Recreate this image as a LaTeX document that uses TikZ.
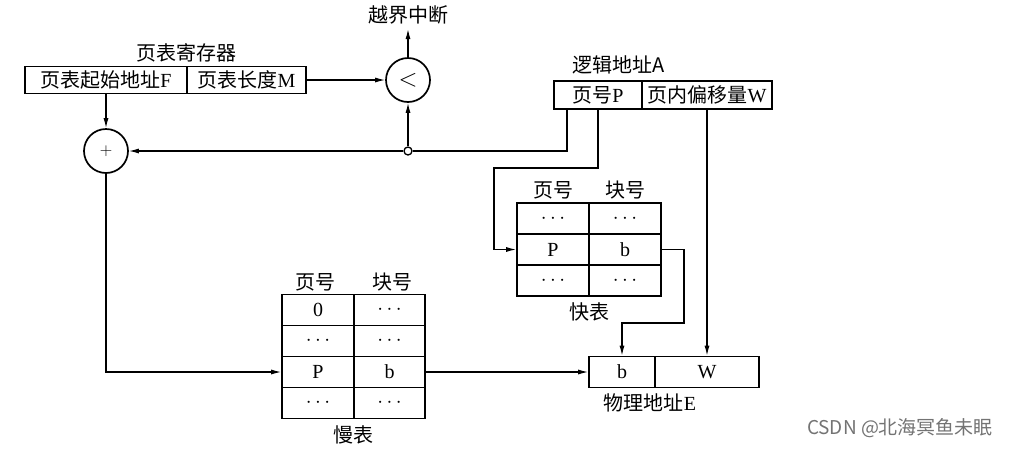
\documentclass[tikz,border=0pt]{standalone}
\usepackage{fontspec}
\setmainfont{Liberation Serif}
\newfontfamily\cjk{Noto Sans CJK SC}
\usetikzlibrary{arrows.meta}
\begin{document}
\begin{tikzpicture}[x=1pt,y=-1pt,
  every node/.style={font=\fontsize{20}{22}\selectfont, inner sep=0pt},
  cell/.style={draw, line width=1.6pt, minimum height=31pt, anchor=center},
  regcell/.style={draw, line width=1.6pt, minimum height=27pt, anchor=center},
  opcircle/.style={draw, circle, line width=1.7pt, minimum size=44pt},
  lbl/.style={anchor=center},
  conn/.style={line width=1.2pt},
  arr/.style={conn, -{Latex[length=10pt,width=5pt]}},
  juncdot/.style={draw, circle, line width=1.3pt, fill=white, minimum size=8pt}
]
\path[use as bounding box] (0,0) rectangle (1011,448);

% page table register
\node[lbl] (reglbl) at (186,53) {\cjk 页表寄存器};
\node[regcell, minimum width=162pt] (reg1) at (106,80) {{\cjk 页表起始地址}F};
\node[regcell, minimum width=119pt] (reg2) at (246.5,80) {{\cjk 页表长度}M};

% comparator and adder
\node[opcircle] (cmp) at (408,80) {\fontsize{24}{26}\selectfont$<$};
\node[opcircle] (plus) at (106,151) {\fontsize{16}{18}\selectfont$+$};
\node[lbl] (oob) at (408,15) {\cjk 越界中断};
\coordinate (oobtip) at (408,29);
\node[juncdot] (junc) at (408,151) {};

% logical address
\node[lbl] (lalbl) at (619,65) {\cjk 逻辑地址A};
\node[regcell, minimum width=88pt, minimum height=28pt] (la1) at (598,95) {{\cjk 页号}P};
\node[regcell, minimum width=130pt, minimum height=28pt] (la2) at (707,95) {{\cjk 页内偏移量}W};

% fast table
\node[lbl] (fh1) at (553,190) {\cjk 页号};
\node[lbl] (fh2) at (625,190) {\cjk 块号};
\node[cell, minimum width=72pt] (f11) at (553,218.5) {$\cdots$};
\node[cell, minimum width=72pt] (f12) at (625,218.5) {$\cdots$};
\node[cell, minimum width=72pt] (fP) at (553,249.5) {P};
\node[cell, minimum width=72pt] (fb) at (625,249.5) {b};
\node[cell, minimum width=72pt] (f31) at (553,280.5) {$\cdots$};
\node[cell, minimum width=72pt] (f32) at (625,280.5) {$\cdots$};
\node[lbl] (flbl) at (589,312) {\cjk 快表};

% slow table
\node[lbl] (sh1) at (315,282) {\cjk 页号};
\node[lbl] (sh2) at (392,282) {\cjk 块号};
\node[cell, minimum width=72pt] (s11) at (318,310) {0};
\node[cell, minimum width=71pt] (s12) at (389.5,310) {$\cdots$};
\node[cell, minimum width=72pt] (s21) at (318,341) {$\cdots$};
\node[cell, minimum width=71pt] (s22) at (389.5,341) {$\cdots$};
\node[cell, minimum width=72pt] (sP) at (318,372) {P};
\node[cell, minimum width=71pt] (sb) at (389.5,372) {b};
\node[cell, minimum width=72pt] (s41) at (318,403) {$\cdots$};
\node[cell, minimum width=71pt] (s42) at (389.5,403) {$\cdots$};
\node[lbl] (slbl) at (353,435) {\cjk 慢表};

% physical address
\node[cell, minimum width=66pt] (pb) at (622,372) {b};
\node[cell, minimum width=104pt] (pw) at (707,372) {W};
\node[lbl] (plbl) at (650,403) {{\cjk 物理地址}E};

% watermark
\node[lbl, text=black!55, font={\cjk\fontsize{19}{21}\selectfont}] (wm) at (900,428) {CSDN @北海冥鱼未眠};

% connectors
\coordinate (w1) at (494,168);
\coordinate (w2) at (684,323);
\draw[arr] (reg2.east) -- (cmp.west);
\draw[arr] (cmp.north) -- (oobtip);
\draw[arr] (reg1.south) -- (plus.north);
\draw[conn] ([xshift=-31pt]la1.south) |- (junc.east);
\draw[arr] (junc.west) -- (plus.east);
\draw[arr] (junc.north) -- (cmp.south);
\draw[arr] (la1.south) |- (w1) |- (fP.west);
\draw[arr] (fb.east) -| (w2) -| (pb.north);
\draw[arr] (la2.south) -- (pw.north);
\draw[arr] (plus.south) |- (sP.west);
\draw[arr] (sb.east) -- (pb.west);
\end{tikzpicture}
\end{document}
